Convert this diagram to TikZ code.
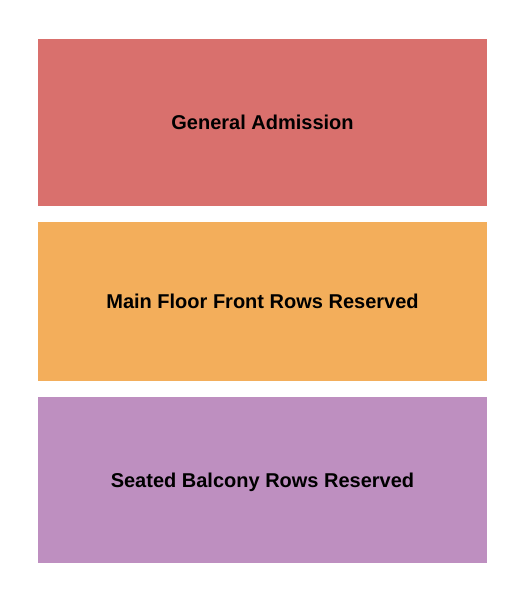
\documentclass[tikz,border=0pt]{standalone}
\usepackage{fontspec}
\setmainfont{Liberation Sans}
\usepackage{tikz}
\definecolor{admission}{RGB}{217,112,109}
\definecolor{floorfront}{RGB}{243,174,91}
\definecolor{balcony}{RGB}{190,143,192}

\begin{document}
\begin{tikzpicture}[x=1pt, y=-1pt,
	section/.style={draw=none, inner sep=0pt, minimum width=449pt, text=black,
		text height=14.5pt, text depth=0pt,
		font=\fontsize{20}{23}\selectfont\bfseries}]

	\useasboundingbox (0,0) rectangle (525,602);

	\node[section, fill=admission, minimum height=167pt] (ga) at (262.5,122.5) {General Admission};
	\node[section, fill=floorfront, minimum height=159pt] (front) at (262.5,301.5) {Main Floor Front Rows Reserved};
	\node[section, fill=balcony, minimum height=166pt] (balc) at (262.5,480) {Seated Balcony Rows Reserved};

\end{tikzpicture}
\end{document}
